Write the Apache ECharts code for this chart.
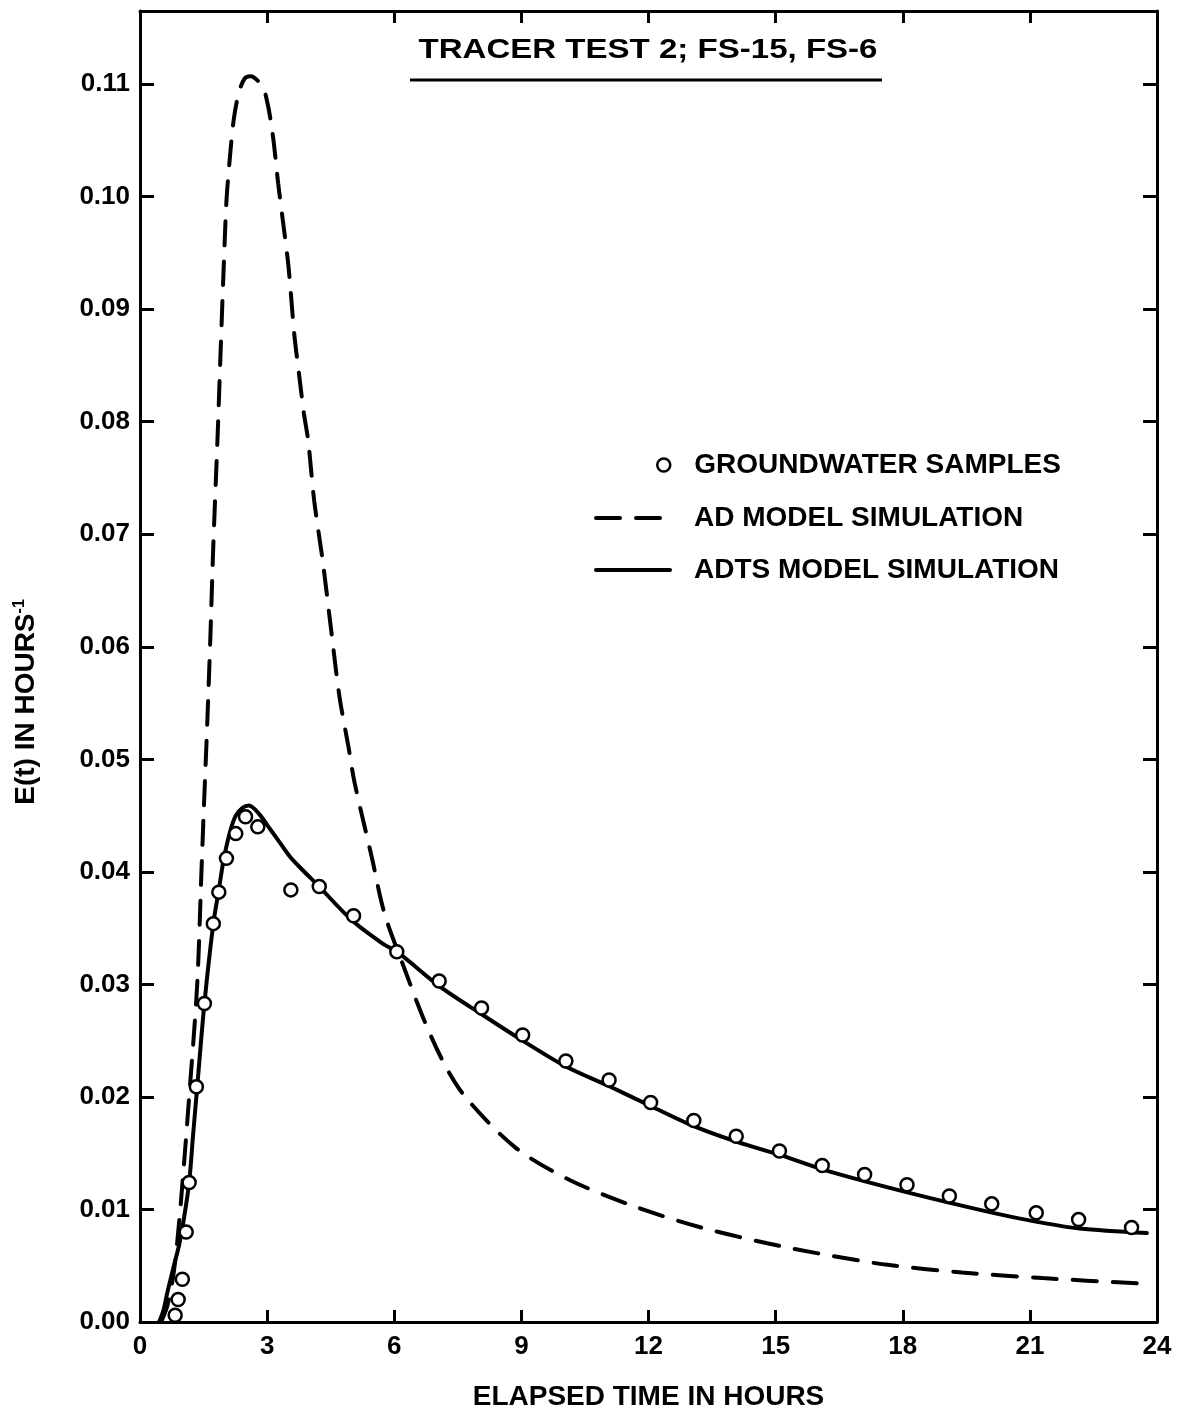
<!DOCTYPE html>
<html>
<head>
<meta charset="utf-8">
<title>Tracer test 2; FS-15, FS-6</title>
<script src="https://cdn.jsdelivr.net/npm/echarts@6.0.0/dist/echarts.min.js"></script>
<style>
html, body { margin: 0; padding: 0; background: #fff; }
#chart { width: 1182px; height: 1415px; }
</style>
</head>
<body>
<div id="chart"></div>
<script>
// groundwater samples (hours, E(t) in 1/hours)
var sampleTime = [0.83, 0.90, 1.00, 1.09, 1.16, 1.33, 1.52, 1.73, 1.86, 2.04, 2.26, 2.49, 2.78,
    3.56, 4.23, 5.04, 6.06, 7.06, 8.06, 9.03, 10.05, 11.07, 12.05, 13.07, 14.07, 15.09,
    16.10, 17.10, 18.10, 19.10, 20.10, 21.15, 22.15, 23.40];
var sampleValue = [0.0006, 0.0020, 0.0038, 0.0080, 0.0124, 0.0209, 0.0283, 0.0354, 0.0382, 0.0412, 0.0434, 0.0449, 0.0440,
    0.0384, 0.0387, 0.0361, 0.0329, 0.0303, 0.0279, 0.0255, 0.0232, 0.0215, 0.0195, 0.0179, 0.0165, 0.0152,
    0.0139, 0.0131, 0.0122, 0.0112, 0.0105, 0.0097, 0.0091, 0.0084];

// AD model simulation (dashed)
var adTime = [0.50, 0.65, 0.80, 0.95, 1.16, 1.35, 1.45, 1.50, 1.59, 1.66, 1.73, 1.83, 1.90, 1.97, 2.04, 2.11,
    2.21, 2.33, 2.47, 2.61, 2.90, 3.02, 3.09, 3.16, 3.26, 3.37, 3.49, 3.56, 3.64, 3.75, 3.87, 3.97,
    4.11, 4.32, 4.52, 4.71, 4.92, 5.06, 5.47, 5.77, 6.25, 6.73, 7.20, 7.70, 8.86, 10.15, 11.72,
    13.24, 14.80, 16.00, 17.60, 19.40, 21.30, 23.70];
var adValue = [0, 0.0015, 0.0045, 0.0100, 0.0200, 0.0300, 0.0400, 0.0450, 0.0535, 0.0608, 0.0690, 0.0786, 0.0860, 0.0932, 0.0996, 0.1030,
    0.1068, 0.1092, 0.1105, 0.1107, 0.1097, 0.1081, 0.1066, 0.1047, 0.1012, 0.0979, 0.0943, 0.0914, 0.0878, 0.0843, 0.0807, 0.0783,
    0.0730, 0.0674, 0.0612, 0.0555, 0.0511, 0.0480, 0.0413, 0.0363, 0.0313, 0.0266, 0.0228, 0.0199, 0.0155, 0.0126, 0.0102,
    0.0084, 0.0070, 0.0061, 0.0051, 0.0044, 0.0039, 0.0034];

// ADTS model simulation (solid)
var adtsTime = [0.45, 0.55, 0.65, 0.80, 0.92, 1.02, 1.16, 1.25, 1.35, 1.52, 1.73, 1.86, 1.97, 2.12, 2.26, 2.42,
    2.57, 2.80, 3.09, 3.30, 3.55, 3.80, 4.20, 5.00, 5.70, 6.10, 7.08, 8.08, 9.03, 10.05, 11.10, 12.05, 13.07,
    14.09, 15.14, 16.16, 18.13, 20.13, 21.17, 22.17, 23.76];
var adtsValue = [0, 0.0010, 0.0027, 0.0050, 0.0068, 0.0088, 0.0124, 0.0165, 0.0209, 0.0283, 0.0354, 0.0384, 0.0410, 0.0435, 0.0450, 0.0457,
    0.0459, 0.0452, 0.0437, 0.0426, 0.0413, 0.0403, 0.0388, 0.0357, 0.0337, 0.0328, 0.0298, 0.0273, 0.0250, 0.0227, 0.0209, 0.0192, 0.0174,
    0.0160, 0.0148, 0.0135, 0.0115, 0.0097, 0.0089, 0.0083, 0.0079];

var xMin = 0, xMax = 24, xStep = 3;
var yMin = 0, yMax = 0.1165, yStep = 0.01;

var FONT = '"Liberation Sans", Arial, Helvetica, sans-serif';
var INK = '#000';
var AD_DASH = [24, 16];

var zip = function (xs, ys) {
    var out = [];
    for (var i = 0; i < xs.length; i++) {
        out.push([xs[i], ys[i]]);
    }
    return out;
};

// one side of the boxed frame, ticks pointing inward
var frameAxis = function (pos, isX) {
    return {
        type: 'value',
        position: pos,
        min: isX ? xMin : yMin,
        max: isX ? xMax : yMax,
        interval: isX ? xStep : yStep,
        axisLine: { show: true, onZero: false, lineStyle: { color: INK, width: 3 } },
        axisTick: { show: true, inside: true, length: isX ? 12 : 14, lineStyle: { color: INK, width: 3 } },
        axisLabel: { show: false },
        splitLine: { show: false }
    };
};

var xBottom = frameAxis('bottom', true);
xBottom.axisLabel = {
    show: true, color: INK, fontSize: 26, fontWeight: 'bold', fontFamily: FONT, margin: 12
};
xBottom.name = 'ELAPSED TIME IN HOURS';
xBottom.nameLocation = 'middle';
xBottom.nameGap = 61;
xBottom.nameTextStyle = { color: INK, fontSize: 28, fontWeight: 'bold', fontFamily: FONT };

var yLeft = frameAxis('left', false);
yLeft.axisLabel = {
    show: true, color: INK, fontSize: 26, fontWeight: 'bold', fontFamily: FONT, margin: 10,
    showMaxLabel: false,
    formatter: function (v) {
        if (Math.abs(v * 100 - Math.round(v * 100)) > 1e-6) return '';
        return v.toFixed(2);
    }
};

var legendText = function () {
    return { color: INK, fontSize: 28, fontWeight: 'bold', fontFamily: FONT, padding: [0, 0, 0, 19] };
};

var chart = echarts.init(document.getElementById('chart'));
var option = {
    backgroundColor: '#fff',
    animation: false,
    textStyle: { fontFamily: FONT, color: INK },
    grid: { left: 140, top: 11, right: 25, bottom: 93, containLabel: false, outerBoundsMode: 'none' },
    xAxis: [xBottom, frameAxis('top', true)],
    yAxis: [yLeft, frameAxis('right', false)],
    legend: [{
        data: ['GROUNDWATER SAMPLES'],
        left: 656, top: 451, padding: 0,
        itemWidth: 13, itemHeight: 13,
        itemStyle: { color: '#fff', borderColor: INK, borderWidth: 2.5 },
        textStyle: legendText()
    }, {
        data: ['AD MODEL SIMULATION'],
        left: 594, top: 504, padding: 0,
        itemWidth: 74, itemHeight: 14,
        itemStyle: { opacity: 0 },
        lineStyle: { color: INK, width: 4, type: AD_DASH, cap: 'round' },
        textStyle: legendText()
    }, {
        data: ['ADTS MODEL SIMULATION'],
        left: 594, top: 556, padding: 0,
        itemWidth: 74, itemHeight: 14,
        itemStyle: { opacity: 0 },
        lineStyle: { color: INK, width: 4, type: 'solid', cap: 'round' },
        textStyle: legendText()
    }],
    graphic: [{
        type: 'text',
        x: 648, y: 50,
        scaleX: 1.18,
        style: {
            text: 'TRACER TEST 2; FS-15, FS-6',
            fontSize: 28, fontWeight: 'bold', fontFamily: FONT,
            fill: INK, align: 'center', verticalAlign: 'middle'
        }
    }, {
        type: 'line',
        shape: { x1: 410, y1: 80, x2: 882, y2: 80 },
        style: { stroke: INK, lineWidth: 3 }
    }, {
        type: 'text',
        x: 26, y: 702,
        rotation: Math.PI / 2,
        style: {
            text: '{m|E(t) IN HOURS}{s|-1}',
            align: 'center', verticalAlign: 'middle',
            rich: {
                m: { fontSize: 28, fontWeight: 'bold', fontFamily: FONT, fill: INK },
                s: { fontSize: 16, fontWeight: 'bold', fontFamily: FONT, fill: INK, verticalAlign: 'top' }
            }
        }
    }],
    series: [{
        name: 'AD MODEL SIMULATION',
        type: 'line',
        symbol: 'none',
        smooth: 0.3,
        data: zip(adTime, adValue),
        lineStyle: { color: INK, width: 4, type: AD_DASH, cap: 'round' },
        itemStyle: { color: INK },
        z: 2
    }, {
        name: 'ADTS MODEL SIMULATION',
        type: 'line',
        symbol: 'none',
        smooth: 0.3,
        data: zip(adtsTime, adtsValue),
        lineStyle: { color: INK, width: 4, cap: 'round' },
        itemStyle: { color: INK },
        z: 3
    }, {
        name: 'GROUNDWATER SAMPLES',
        type: 'scatter',
        symbol: 'circle',
        symbolSize: 13,
        data: zip(sampleTime, sampleValue),
        itemStyle: { color: '#fff', borderColor: INK, borderWidth: 2.5, opacity: 1 },
        z: 4
    }]
};
chart.setOption(option);
</script>
</body>
</html>
